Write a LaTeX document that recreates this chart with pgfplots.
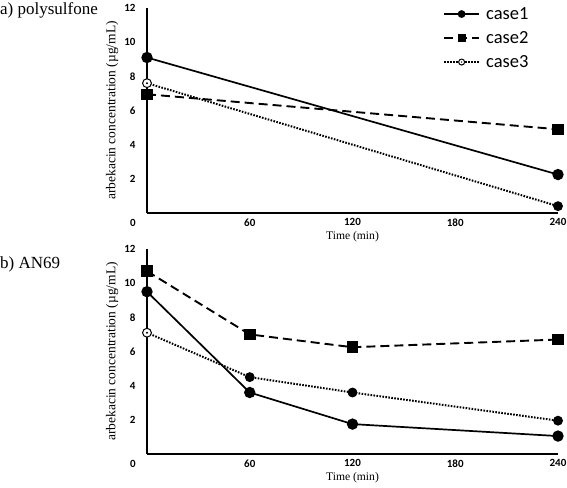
\documentclass[border=0pt]{standalone}
\usepackage{pgfplots}
\pgfplotsset{compat=1.18}
\usepackage{fontspec}
\setmainfont{Liberation Serif}
\newfontfamily\calibri{Carlito}
\pgfdeclareplotmark{odot}{%
  \pgfpathcircle{\pgfpointorigin}{\pgfplotmarksize}\pgfusepathqfillstroke
  \pgfsetfillcolor{black}%
  \pgfpathcircle{\pgfpointorigin}{0.25\pgfplotmarksize}\pgfusepathqfill}
\pgfplotsset{
  mystyle/.style={
    width=411pt, height=205pt, scale only axis,
    xmin=0, xmax=240, ymin=0, ymax=12,
    axis lines=left, axis line style={-, line width=1.1pt},
    xtick={60,120,180,240}, ytick={2,4,...,12},
    major tick length=0pt,
    tick label style={font=\calibri\bfseries\fontsize{11}{13}\selectfont},
    /pgf/number format/assume math mode=true,
    yticklabel style={xshift=-8pt},
    xticklabel style={yshift=-2pt},
    xlabel={Time (min)},
    xlabel style={font=\fontsize{11.6}{13}\selectfont, yshift=2pt},
    ylabel={arbekacin concentration (µg/mL)},
    every axis y label/.style={at={(axis description cs:-0.085,0.5)}, rotate=90, anchor=center, font=\fontsize{13.5}{15}\selectfont},
    clip=false,
  },
  c1/.style={black, solid, line width=1.7pt, mark=*, mark size=4.8pt, mark options={solid}},
  c2/.style={black, dash pattern=on 9pt off 5pt, line width=1.9pt, mark=square*, mark size=4.8pt, mark options={solid}},
  c3/.style={black, dash pattern=on 1.6pt off 1.4pt, line width=2pt, mark=odot, mark size=4.4pt, mark options={solid, fill=white, line width=1pt}},
}
\begin{document}
\begin{tikzpicture}
\useasboundingbox (0,0) rectangle (567pt,487pt);
\node[anchor=north west, inner sep=0pt, font=\fontsize{17}{20}\selectfont] at (0pt,485pt) {a) polysulfone};
\node[anchor=north west, inner sep=0pt, font=\fontsize{17}{20}\selectfont] at (0pt,230pt) {b) AN69};
\begin{axis}[mystyle, at={(147pt,274pt)}, anchor=south west,
  legend style={draw=none, fill=none, font=\calibri\fontsize{18.5}{21}\selectfont,
    at={(0.72,1.03)}, anchor=north west, row sep=0pt, inner sep=0pt, cells={anchor=west}},
  legend image code/.code={\path[draw=none, fill=none] (0pt,-12pt) rectangle (40pt,12pt);
    \draw[mark repeat=2, mark phase=2, mark size=3pt] plot coordinates {(0pt,0pt) (17.5pt,0pt) (35pt,0pt)};},
]
\addplot[c1] coordinates {(0,9.1) (240,2.25)};
\addlegendentry{case1}
\addplot[c2] coordinates {(0,6.95) (240,4.9)};
\addlegendentry{case2}
\addplot[c3] coordinates {(0,7.6) (240,0.4)};
\addlegendentry{case3}
\node[font=\calibri\bfseries\fontsize{11}{13}\selectfont, xshift=-14pt, yshift=-10pt] at (axis cs:0,0) {0};
\end{axis}
\begin{axis}[mystyle, at={(147pt,33pt)}, anchor=south west]
\addplot[c1] coordinates {(0,9.5) (60,3.6) (120,1.75) (240,1.05)};
\addplot[c2] coordinates {(0,10.7) (60,7.0) (120,6.25) (240,6.7)};
\addplot[c3] coordinates {(0,7.1) (60,4.5) (120,3.6) (240,1.95)};
\node[font=\calibri\bfseries\fontsize{11}{13}\selectfont, xshift=-14pt, yshift=-10pt] at (axis cs:0,0) {0};
\end{axis}
\end{tikzpicture}
\end{document}
